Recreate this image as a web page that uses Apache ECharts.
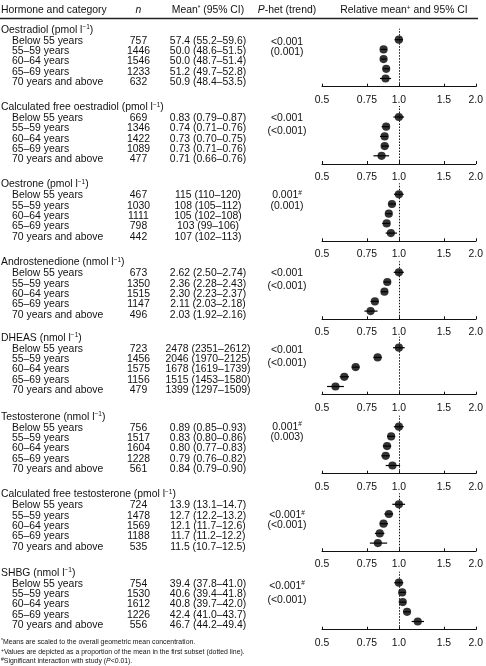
<!DOCTYPE html>
<html><head><meta charset="utf-8">
<script src="https://cdn.jsdelivr.net/npm/echarts@6/dist/echarts.min.js"></script>
<style>html,body{margin:0;padding:0;background:#fff}#c{width:486px;height:666px}</style>
</head><body><div id="c"></div>
<script>
// ---------- DATA ----------
const hormones = ['Oestradiol', 'Calculated free oestradiol', 'Oestrone', 'Androstenedione', 'DHEAS', 'Testosterone', 'Calculated free testosterone', 'SHBG'];
const units = ['pmol', 'pmol', 'pmol', 'nmol', 'nmol', 'nmol', 'pmol', 'nmol'];
const ageGroups = ['Below 55 years', '55–59 years', '60–64 years', '65–69 years', '70 years and above'];
const nCounts = [
  [757, 1446, 1546, 1233, 632],
  [669, 1346, 1422, 1089, 477],
  [467, 1030, 1111, 798, 442],
  [673, 1350, 1515, 1147, 496],
  [723, 1456, 1575, 1156, 479],
  [756, 1517, 1604, 1228, 561],
  [724, 1478, 1569, 1188, 535],
  [754, 1530, 1612, 1226, 556]
];
const means = [
  [57.4, 50.0, 50.0, 51.2, 50.9],
  [0.83, 0.74, 0.73, 0.73, 0.71],
  [115, 108, 105, 103, 107],
  [2.62, 2.36, 2.30, 2.11, 2.03],
  [2478, 2046, 1678, 1515, 1399],
  [0.89, 0.83, 0.80, 0.79, 0.84],
  [13.9, 12.7, 12.1, 11.7, 11.5],
  [39.4, 40.6, 40.8, 42.4, 46.7]
];
const lowerCI = [
  [55.2, 48.6, 48.7, 49.7, 48.4],
  [0.79, 0.71, 0.70, 0.71, 0.66],
  [110, 105, 102, 99, 102],
  [2.50, 2.28, 2.23, 2.03, 1.92],
  [2351, 1970, 1619, 1453, 1297],
  [0.85, 0.80, 0.77, 0.76, 0.79],
  [13.1, 12.2, 11.7, 11.2, 10.7],
  [37.8, 39.4, 39.7, 41.0, 44.2]
];
const upperCI = [
  [59.6, 51.5, 51.4, 52.8, 53.5],
  [0.87, 0.76, 0.75, 0.76, 0.76],
  [120, 112, 108, 106, 113],
  [2.74, 2.43, 2.37, 2.18, 2.16],
  [2612, 2125, 1739, 1580, 1509],
  [0.93, 0.86, 0.83, 0.82, 0.90],
  [14.7, 13.2, 12.6, 12.2, 12.5],
  [41.0, 41.8, 42.0, 43.7, 49.4]
];
const decimals = [1, 2, 0, 2, 0, 2, 1, 1];
const pHet = ['<0.001', '<0.001', '0.001', '<0.001', '<0.001', '0.001', '<0.001', '<0.001'];
const pHetSignificant = [false, false, true, false, false, true, true, true];
const pTrend = ['0.001', '<0.001', '0.001', '<0.001', '<0.001', '0.003', '<0.001', '<0.001'];
const tickValues = [0.5, 0.75, 1.0, 1.5, 2.0];
const tickLabels = ['0.5', '0.75', '1.0', '1.5', '2.0'];

// ---------- LAYOUT ----------
const FONT = '"Liberation Sans", Arial, Helvetica, sans-serif';
const FS = 10.4;
const TXT = '#111';
const axisY = [86.7, 164, 241.3, 319.3, 394.7, 473.7, 551.3, 629.7];
const pTop = [-45, -46, -46, -46, -45, -47, -36, -44];
const pGap = [10.6, 13, 11, 13, 13, 10.6, 9.5, 14];
const GRID_H = 58;
const rowY = i => 47 - 9.7 * i;

const richStyles = {
  sup: { fontSize: 6.5, fontFamily: FONT, fill: TXT, verticalAlign: 'top', padding: [0, 0, 4, 0] },
  it: { fontSize: FS, fontFamily: FONT, fontStyle: 'italic', fill: TXT },
  fsup: { fontSize: 5, fontFamily: FONT, fill: TXT, verticalAlign: 'top', padding: [0, 0, 3, 0] },
  fit: { fontSize: 6.9, fontFamily: FONT, fontStyle: 'italic', fill: TXT }
};

const graphics = [];
function txt(x, y, text, opts) {
  const st = Object.assign({
    text: text, fontFamily: FONT, fontSize: FS, fill: TXT,
    align: 'left', verticalAlign: 'middle', textAlign: 'left', textVerticalAlign: 'middle',
    rich: richStyles
  }, opts || {});
  if (st.align) st.textAlign = st.align;
  graphics.push({ type: 'text', x: x, y: y, silent: true, style: st });
}

// header
txt(1, 10, 'Hormone and category');
txt(138.5, 10, '{it|n}', { align: 'center' });
txt(208, 10, 'Mean{sup|*} (95% CI)', { align: 'center' });
txt(287, 10, '{it|P}-het (trend)', { align: 'center' });
txt(404, 10, 'Relative mean{sup|+} and 95% CI', { align: 'center' });
graphics.push({ type: 'line', silent: true, shape: { x1: 0, y1: 18.5, x2: 478, y2: 18.5 }, style: { stroke: '#222', lineWidth: 1.3 } });

const fmt = (v, d) => v.toFixed(d);

const grids = [], xAxes = [], yAxes = [], series = [];
const tickLog = tickValues.map(v => Math.log2(v));
const labelFor = v => {
  for (let j = 0; j < tickLog.length; j++) if (Math.abs(tickLog[j] - v) < 1e-6) return tickLabels[j];
  return '';
};

hormones.forEach((h, k) => {
  const A = axisY[k];
  txt(1, A - 57, h + ' (' + units[k] + ' l{sup|−1})');
  ageGroups.forEach((g, i) => {
    const y = A - 46 + 10.4 * i;
    const d = decimals[k];
    txt(12, y, g);
    txt(138.5, y, String(nCounts[k][i]), { align: 'center' });
    txt(208, y, fmt(means[k][i], d) + ' (' + fmt(lowerCI[k][i], d) + '–' + fmt(upperCI[k][i], d) + ')', { align: 'center' });
  });
  txt(287, A + pTop[k], pHet[k] + (pHetSignificant[k] ? '{sup|#}' : ''), { align: 'center' });
  txt(287, A + pTop[k] + pGap[k], '(' + pTrend[k] + ')', { align: 'center' });

  grids.push({ left: 322, width: 156, top: A - GRID_H, height: GRID_H });
  xAxes.push({
    type: 'value', gridIndex: k, min: -1, max: 1,
    axisLine: { show: true, lineStyle: { color: '#111', width: 1 } },
    axisTick: { show: true, inside: true, length: 3, customValues: tickLog, lineStyle: { color: '#111', width: 1 } },
    axisLabel: { show: true, customValues: tickLog, formatter: labelFor, fontSize: FS, fontFamily: FONT, color: TXT, margin: 8 },
    splitLine: { show: false }
  });
  yAxes.push({ type: 'value', gridIndex: k, min: 0, max: GRID_H, show: false });

  const ref = means[k][0];
  series.push({
    type: 'custom', xAxisIndex: k, yAxisIndex: k, silent: true,
    data: ageGroups.map((_, i) => [Math.log2(lowerCI[k][i] / ref), Math.log2(upperCI[k][i] / ref), rowY(i)]),
    encode: { x: [0, 1], y: 2 },
    renderItem: function (params, api) {
      const p1 = api.coord([api.value(0), api.value(2)]);
      const p2 = api.coord([api.value(1), api.value(2)]);
      return { type: 'line', shape: { x1: p1[0], y1: p1[1], x2: p2[0], y2: p2[1] }, style: { stroke: '#000', lineWidth: 1.2 } };
    }
  });
  series.push({
    type: 'scatter', xAxisIndex: k, yAxisIndex: k, silent: true,
    symbol: 'circle', symbolSize: 8.2,
    itemStyle: { color: '#000' },
    data: ageGroups.map((_, i) => [Math.log2(means[k][i] / ref), rowY(i)]),
    markLine: {
      silent: true, symbol: 'none', label: { show: false },
      lineStyle: { color: '#111', width: 1, type: [1.5, 1.5] },
      data: [{ xAxis: 0 }]
    },
    z: 3
  });
});

// footnotes
const FN = 6.9;
txt(1, 642, '{fsup|*}Means are scaled to the overall geometric mean concentration.', { fontSize: FN });
txt(1, 651.7, '{fsup|+}Values are depicted as a proportion of the mean in the first subset (dotted line).', { fontSize: FN });
txt(1, 661, '{fsup|#}Significant interaction with study ({fit|P}<0.01).', { fontSize: FN });

const chart = echarts.init(document.getElementById('c'), null, { renderer: 'canvas' });
chart.setOption({
  animation: false,
  backgroundColor: '#fff',
  grid: grids, xAxis: xAxes, yAxis: yAxes, series: series,
  graphic: { elements: graphics }
});
</script></body></html>
